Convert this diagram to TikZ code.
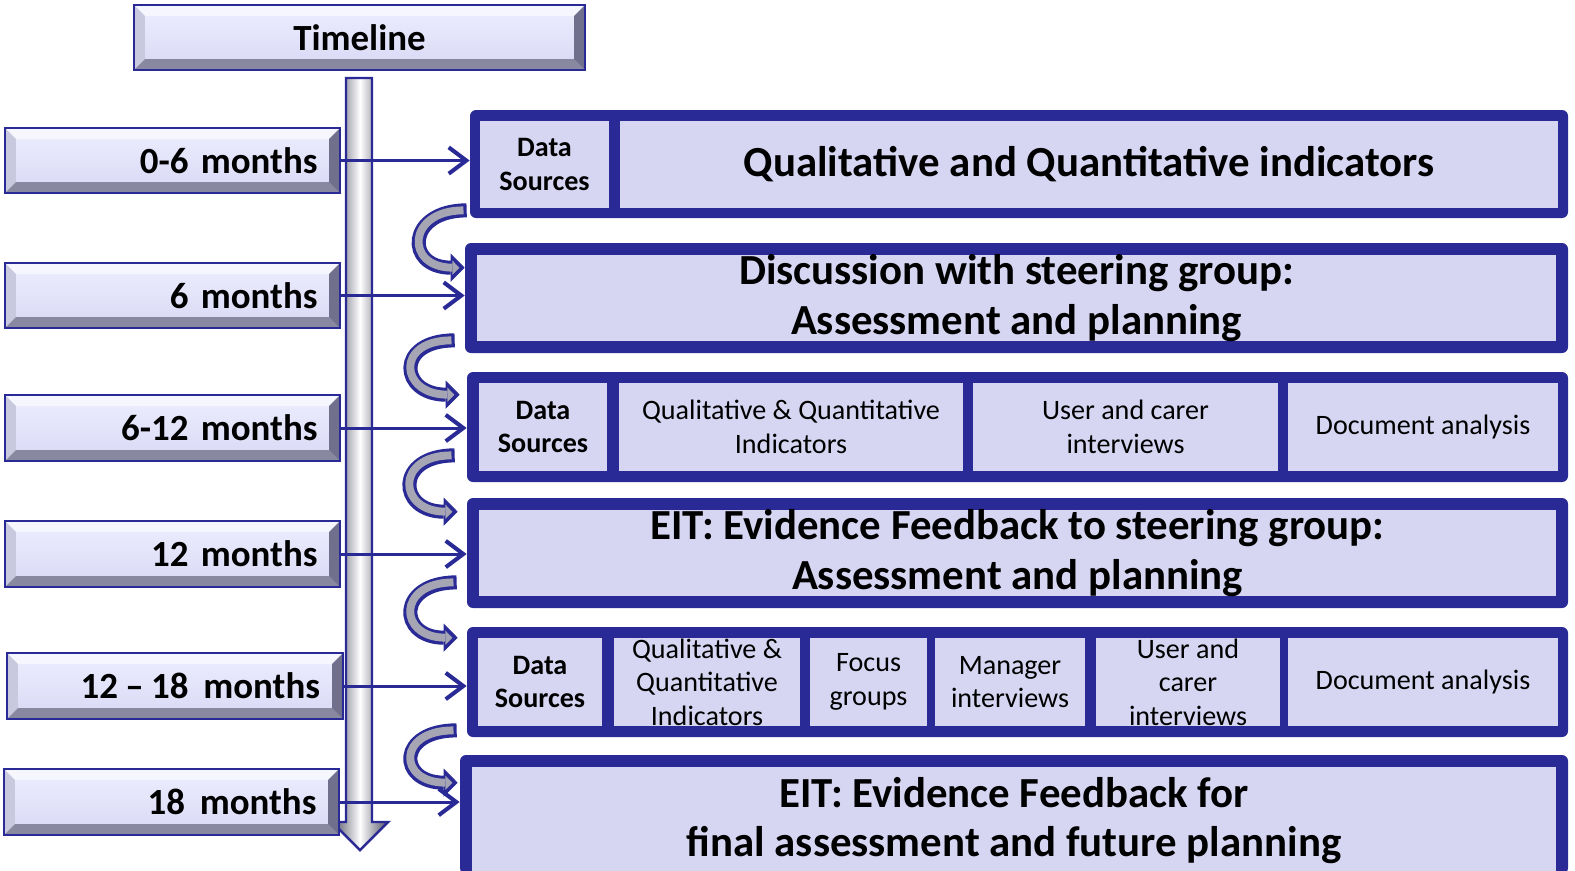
\documentclass[tikz,border=0pt]{standalone}
\usepackage{fontspec}
\setmainfont{Carlito}
\usetikzlibrary{calc,arrows.meta}

\definecolor{navy}{RGB}{42,42,150}
\definecolor{cellfill}{RGB}{214,214,243}
\definecolor{faceTop}{RGB}{238,238,255}
\definecolor{faceBot}{RGB}{216,216,245}
\definecolor{bevLight}{RGB}{246,246,255}
\definecolor{bevSide}{RGB}{200,200,222}
\definecolor{bevDark}{RGB}{136,136,160}
\definecolor{bevRight}{RGB}{112,112,140}
\definecolor{curlfill}{RGB}{165,165,180}

\tikzset{
  % box given by its corners in pixels
  spot/.style n args={4}{at={({(#1+#3)/2},{(#2+#4)/2})},
    minimum width={(#3-#1)*0.02cm}, minimum height={(#4-#2)*0.02cm}},
  panel/.style={fill=navy, rounded corners=0.12cm, inner sep=0pt},
  cell/.style={fill=cellfill, inner sep=0pt, align=center, font=\fontsize{16}{19}\selectfont},
  datacell/.style={cell, font=\fontsize{16}{19}\selectfont\bfseries},
  bigcell/.style={cell, font=\fontsize{24.4}{28}\selectfont\bfseries},
  month/.style={draw=navy, line width=1.2pt, top color=faceTop, bottom color=faceBot,
    inner sep=0pt, text width=5.8cm, align=right, font=\fontsize{21}{25}\selectfont\bfseries,
    path picture={
      \coordinate (bb-nw) at (path picture bounding box.north west);
      \coordinate (bb-ne) at (path picture bounding box.north east);
      \coordinate (bb-sw) at (path picture bounding box.south west);
      \coordinate (bb-se) at (path picture bounding box.south east);
      \fill[bevLight] (bb-nw) -- (bb-ne) -- ($(bb-ne)+(-0.22cm,-0.22cm)$) -- ($(bb-nw)+(0.22cm,-0.22cm)$) -- cycle; % top
      \fill[bevSide] (bb-nw) -- ($(bb-nw)+(0.22cm,-0.22cm)$) -- ($(bb-sw)+(0.22cm,0.22cm)$) -- (bb-sw) -- cycle; % left
      \fill[bevDark] (bb-sw) -- ($(bb-sw)+(0.22cm,0.22cm)$) -- ($(bb-se)+(-0.22cm,0.22cm)$) -- (bb-se) -- cycle; % bottom
      \fill[bevRight] (bb-ne) -- (bb-se) -- ($(bb-se)+(-0.22cm,0.22cm)$) -- ($(bb-ne)+(-0.22cm,-0.22cm)$) -- cycle; % right
    }},
  heading/.style={month, text width=8cm, align=center},
  hop/.style={navy, line width=1.7pt, -{Straight Barb[length=10pt,width=15pt,line width=2.3pt]}},
  curl/.style={navy, line width=8pt, -{Triangle[length=8pt,width=16pt,line width=0.5pt]}},
  curlcore/.style={curlfill, line width=4.5pt, shorten <=1.8pt, shorten >=3pt,
    -{Triangle[length=4pt,width=8pt,line width=0.2pt]}}
}

% curved step arrow between two boxes
\newcommand{\curlarrow}[2]{%
  \draw[curl] #1 .. controls +(-60,0) and +(-60,0) .. #2;
  \draw[curlcore] #1 .. controls +(-60,0) and +(-60,0) .. #2;}

\begin{document}
\begin{tikzpicture}[x=0.02cm,y=-0.02cm]
\useasboundingbox (0,0) rectangle (1575,870);

% Timeline
\node[heading, spot={134}{5}{585}{70}] (head) {Timeline};
\draw[navy, line width=1.4pt, left color=bevRight!70!black, right color=bevRight!70!black, middle color=white]
  (346,78) -- (372,78) -- (372,822) -- (388,822) -- (360,850) -- (332,822) -- (346,822) -- cycle;

% Months
\node[month, spot={5}{128}{340}{193}] (m1) {0-6 months};
\node[month, spot={5}{263}{340}{328}] (m2) {6 months};
\node[month, spot={5}{395}{340}{461}] (m3) {6-12 months};
\node[month, spot={5}{521}{340}{587}] (m4) {12 months};
\node[month, spot={7}{653}{343}{719}] (m5) {12\hspace{0.2em}--\hspace{0.2em}18\hspace{0.4em}months};
\node[month, spot={4}{769}{339}{835}] (m6) {18\hspace{0.4em}months};

% Boxes
\node[panel, spot={470}{110}{1568}{218}] (box1) {};
\node[datacell, spot={480}{121}{609}{208}] (src1) {Data\\Sources};
\node[bigcell, spot={620}{121}{1558}{208}] (ind1) {Qualitative and Quantitative indicators};

\node[panel, spot={465}{243}{1568}{353}] (box2) {};
\node[bigcell, spot={477}{255}{1556}{341}] (disc) {Discussion with steering group:\\Assessment and planning};

\node[panel, spot={467}{372}{1568}{482}] (box3) {};
\node[datacell, spot={479}{383}{607}{471}] (src3) {Data\\Sources};
\node[cell, spot={619}{383}{963}{471}] (ind3) {Qualitative \& Quantitative\\Indicators};
\node[cell, spot={973}{383}{1278}{471}] (user3) {User and carer\\interviews};
\node[cell, spot={1288}{383}{1558}{471}] (doc3) {Document analysis};

\node[panel, spot={467}{498}{1568}{608}] (box4) {};
\node[bigcell, spot={479}{510}{1556}{596}] (eit1) {EIT: Evidence Feedback to steering group:\\Assessment and planning};

\node[panel, spot={467}{627}{1568}{737}] (box5) {};
\node[datacell, spot={478}{638}{602}{726}] (src5) {Data\\Sources};
\node[cell, spot={614}{638}{800}{726}] (ind5) {Qualitative \&\\Quantitative\\Indicators};
\node[cell, spot={810}{638}{927}{726}] (focus5) {Focus\\groups};
\node[cell, spot={935}{638}{1085}{726}] (man5) {Manager\\interviews};
\node[cell, spot={1096}{638}{1280}{726}] (user5) {User and\\carer\\interviews};
\node[cell, spot={1288}{638}{1558}{726}] (doc5) {Document analysis};

\node[panel, spot={460}{755}{1568}{874}] (box6) {};
\node[bigcell, spot={472}{767}{1556}{874}] (eit2) {EIT: Evidence Feedback for\\final assessment and future planning};

% Arrows
\foreach \i in {1,...,6}
  \draw[hop] (m\i.east) -- (m\i.east -| box\i.west);

\curlarrow{($(box1.south west)+(-3,-8)$)}{($(box2.north west)+(0,25)$)}
\curlarrow{($(box2.south west)+(-10,-13)$)}{($(box3.north west)+(-7,23)$)}
\curlarrow{($(box3.south west)+(-12,-27)$)}{($(box4.north west)+(-9,14)$)}
\curlarrow{($(box4.south west)+(-10,-26)$)}{($(box5.north west)+(-9,11)$)}
\curlarrow{($(box5.south west)+(-10,-7)$)}{($(box6.north west)+(-2,28)$)}
\end{tikzpicture}
\end{document}
